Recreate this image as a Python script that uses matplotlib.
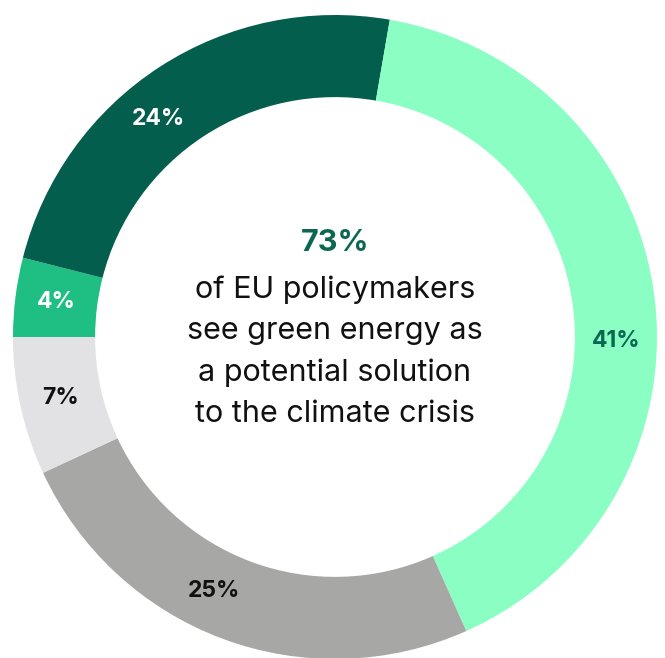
import numpy as np
import matplotlib.pyplot as plt

# slices, clockwise from 9 o'clock
values = [4, 24, 41, 25, 7]
labels = ['4%', '24%', '41%', '25%', '7%']
colors = ['#1fbf84', '#045e4d', '#8bffc3', '#a7a7a6', '#e2e2e4']
label_colors = ['white', 'white', '#0b6652', '#111111', '#111111']
label_shift = [0, 6, -8, -5, 0]  # degrees, nudges for the big slices

headline = '73%'
body = ['of EU policymakers', 'see green energy as',
        'a potential solution', 'to the climate crisis']

plt.rcParams['font.family'] = ['Inter', 'DejaVu Sans']

fig = plt.figure(figsize=(6.65, 6.58), dpi=100)
W, H = 665, 658
cx, cy, R = 335, 337, 322
ax = fig.add_axes([(cx - R) / W, (H - cy - R) / H, 2 * R / W, 2 * R / H])

ring = 0.255
wedges, _ = ax.pie(values, colors=colors, startangle=180, counterclock=False,
                   radius=1, wedgeprops=dict(width=ring, linewidth=0))

r_lab = 1 - ring / 2
for w, lab, c, s in zip(wedges, labels, label_colors, label_shift):
    ang = np.deg2rad((w.theta1 + w.theta2) / 2 + s)
    ax.text(r_lab * np.cos(ang), r_lab * np.sin(ang), lab, ha='center', va='center',
            fontsize=16.5, fontweight='bold', color=c)

ax.text(0, 0.292, headline, ha='center', va='center', fontsize=22,
        fontweight='bold', color='#0b6652')
for i, line in enumerate(body):
    ax.text(0, 0.146 - i * 0.128, line, ha='center', va='center',
            fontsize=22, color='#111111')

ax.set_xlim(-1, 1)
ax.set_ylim(-1, 1)
ax.set_aspect('auto')
ax.axis('off')

fig.savefig('out.png', dpi=100)
